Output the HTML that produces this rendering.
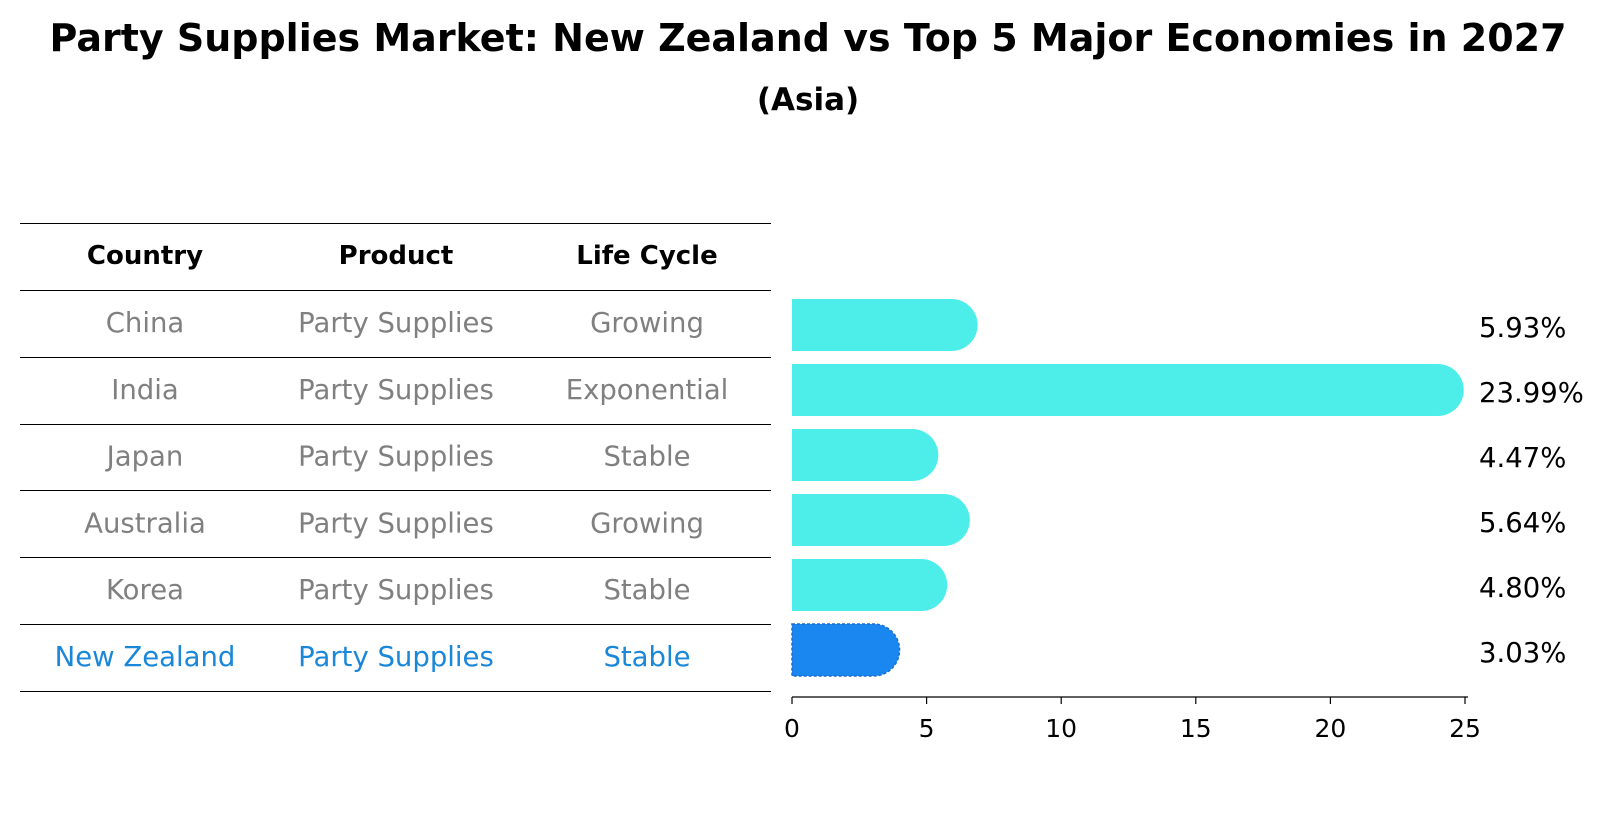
<!DOCTYPE html>
<html><head><meta charset="utf-8"><style>
body{margin:0;background:#fff;font-family:"Liberation Sans","DejaVu Sans",sans-serif;}
svg text{font-family:"DejaVu Sans","Liberation Sans",sans-serif;}
</style></head><body>
<svg id="chart" width="1604" height="823" viewBox="0 0 1604 823">
<text x="808" y="51" text-anchor="middle" font-size="38" font-weight="bold">Party Supplies Market: New Zealand vs Top 5 Major Economies in 2027</text>
<text x="808" y="110" text-anchor="middle" font-size="31" font-weight="bold">(Asia)</text>
<g id="table"></g>
<g id="bars"></g>
</svg>
<script>
const countries=["China","India","Japan","Australia","Korea","New Zealand"];
const products=["Party Supplies","Party Supplies","Party Supplies","Party Supplies","Party Supplies","Party Supplies"];
const lifeCycles=["Growing","Exponential","Stable","Growing","Stable","Stable"];
const values=[5.93,23.99,4.47,5.64,4.80,3.03];
const xTicks=[0,5,10,15,20,25];
const NS="http://www.w3.org/2000/svg";
function mk(t,a,p){const e=document.createElementNS(NS,t);for(const k in a)e.setAttribute(k,a[k]);p.appendChild(e);return e;}
const tb=document.getElementById('table'), bg=document.getElementById('bars');
const x0=792,x1=1465,xmax=25;
const xs=v=>x0+(x1-x0)*v/xmax;
const rowTop=i=>290+i*66.8;
const barH=52, pitch=65, barTop0=299;
const cols=[145,396,647];
for(let i=-1;i<=countries.length;i++){
 const y=Math.round(i<0?223:rowTop(i))+0.5;
 const l=mk('line',{x1:20,x2:771,y1:y,y2:y,stroke:'#000','stroke-width':1},tb);
 
 
}
["Country","Product","Life Cycle"].forEach((h,j)=>{
 const t=mk('text',{x:cols[j],y:264,'text-anchor':'middle','font-size':26,'font-weight':'bold'},tb);
 t.textContent=h;
 
 
});
countries.forEach((c,i)=>{
 const col=i===countries.length-1?'#1a87d9':'#808080';
 [c,products[i],lifeCycles[i]].forEach((s,j)=>{
  const t=mk('text',{x:cols[j],y:rowTop(i)+42,'text-anchor':'middle','font-size':27.5,fill:col},tb);
  t.textContent=s;
  
  
 });
 const y=barTop0+i*pitch, w=xs(values[i])-x0, r=barH/2;
 const nz=i===countries.length-1;
 const p=mk('path',{d:`M${x0},${y} h${w} a${r},${r} 0 0 1 0,${barH} h${-w} z`,fill:nz?'#1a87f0':'#4deee9',stroke:nz?'#1a6fd0':'none','stroke-dasharray':nz?'3,2':'', 'stroke-width':nz?1.5:0},bg);
 
 
 const t=mk('text',{x:1479,y:y+barH/2+12,'font-size':27.5},bg);
 t.textContent=values[i].toFixed(2)+'%';
 
 
});
const ax=mk('line',{x1:x0,x2:x1+3,y1:697,y2:697,stroke:'#000','stroke-width':1.2},bg);


xTicks.forEach(v=>{
 const tk=mk('line',{x1:xs(v),x2:xs(v),y1:697,y2:704,stroke:'#000','stroke-width':1.2},bg);
 
 
 const t=mk('text',{x:xs(v),y:737,'text-anchor':'middle','font-size':25},bg);
 t.textContent=v;
 
 
});
</script>
</body></html>
